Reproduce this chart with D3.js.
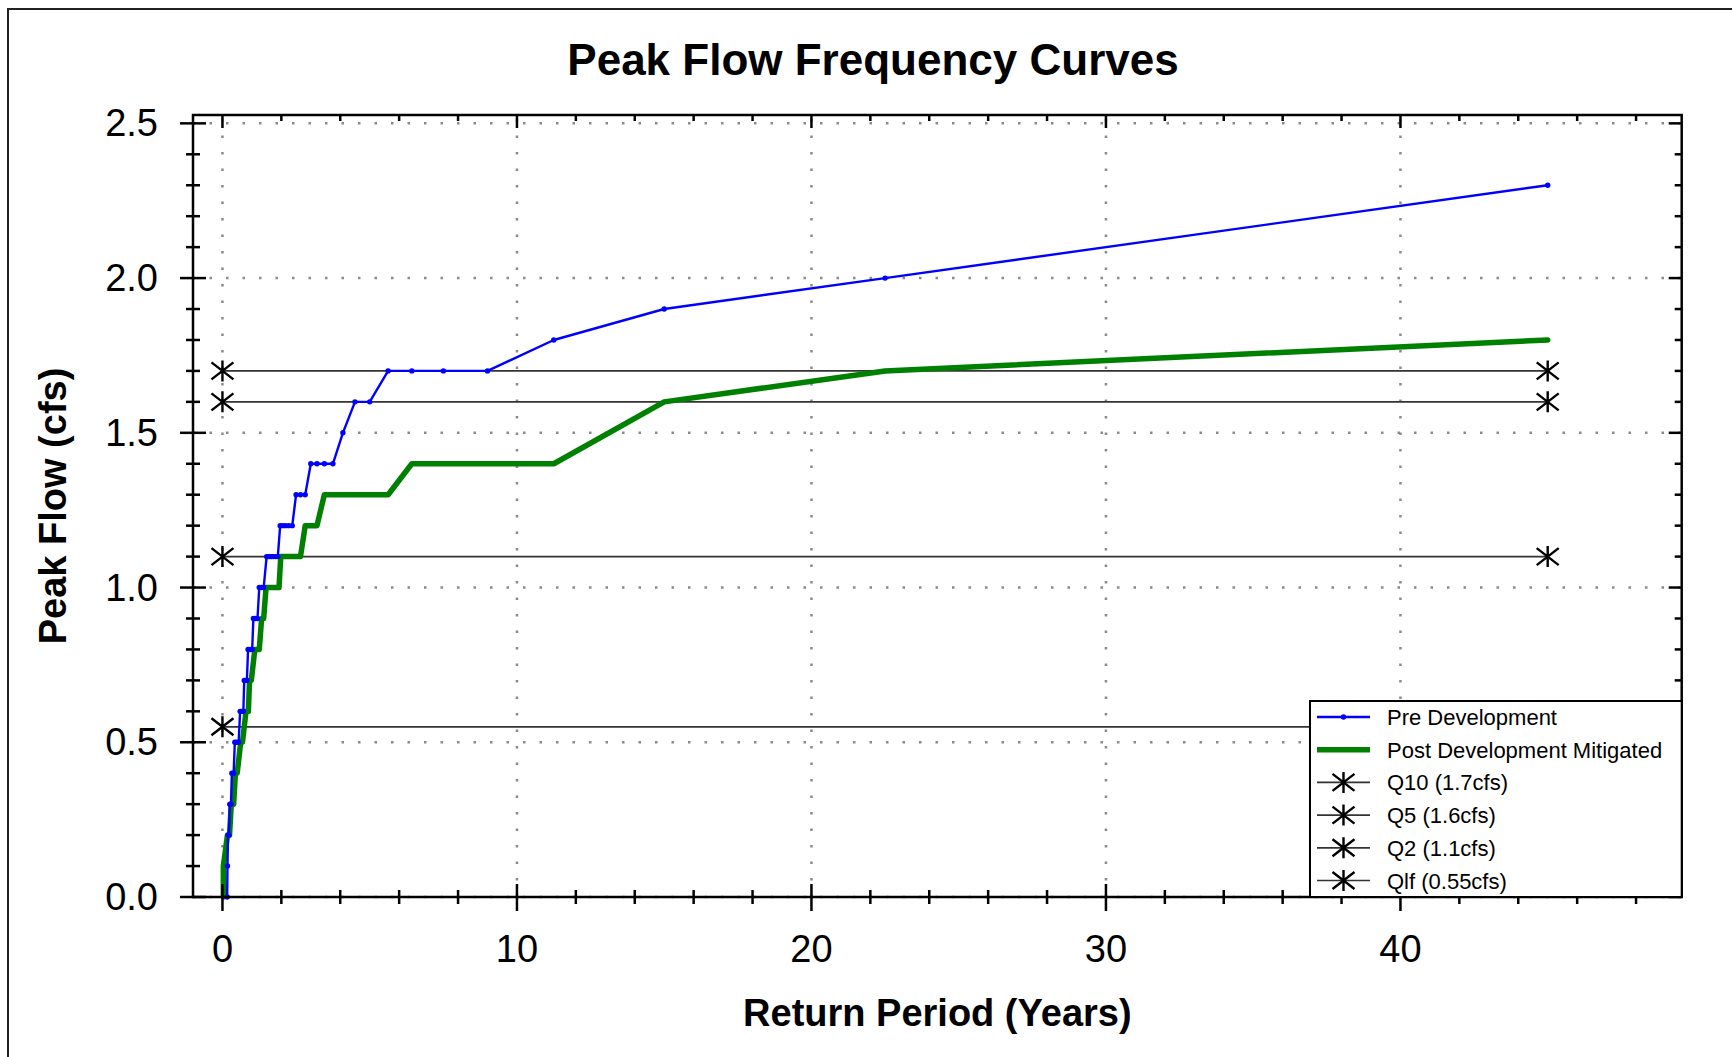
<!DOCTYPE html>
<html>
<head>
<meta charset="utf-8">
<script src="https://cdn.jsdelivr.net/npm/d3@7"></script>
<style>
  body { margin: 0; background: #fff; }
  svg { display: block; }
  text { font-family: "Liberation Sans", Arial, sans-serif; fill: #000; }
</style>
</head>
<body>
<svg id="chart" width="1732" height="1057"></svg>
<script>
// Pre-development peak flows (cfs) against return period (years)
const preReturn = [0.16, 0.17, 0.19, 0.22, 0.25, 0.29, 0.32, 0.38, 0.42, 0.48, 0.55,
  0.60, 0.66, 0.71, 0.74, 0.79, 0.83, 0.87, 0.94, 1.01, 1.05, 1.12, 1.19,
  1.25, 1.32, 1.40, 1.50, 1.55, 1.61, 1.67, 1.73, 1.80, 1.88, 1.96, 2.05, 2.14, 2.25, 2.37,
  2.50, 2.65, 2.81, 3.00, 3.21, 3.46, 3.75, 4.09, 4.50, 5.00, 5.625, 6.43,
  7.50, 9.00, 11.25, 15.0, 22.5, 45.0];
const preFlow = [0.0, 0.1, 0.2, 0.2, 0.3, 0.3, 0.4, 0.4, 0.5, 0.5, 0.5,
  0.6, 0.6, 0.6, 0.7, 0.7, 0.7, 0.8, 0.8, 0.8, 0.9, 0.9, 0.9,
  1.0, 1.0, 1.0, 1.1, 1.1, 1.1, 1.1, 1.1, 1.1, 1.1, 1.2, 1.2, 1.2, 1.2, 1.2,
  1.3, 1.3, 1.3, 1.4, 1.4, 1.4, 1.4, 1.5, 1.6, 1.6, 1.7, 1.7,
  1.7, 1.7, 1.8, 1.9, 2.0, 2.3];

// Post-development (mitigated) peak flows
const postReturn = [0.03, 0.03, 0.17, 0.24, 0.30, 0.38, 0.44, 0.50, 0.62, 0.68,
  0.80, 0.88, 0.92, 0.98, 1.10, 1.25, 1.33, 1.40, 1.48, 1.65, 1.92,
  1.98, 2.14, 2.37, 2.65, 2.81, 3.00, 3.21, 3.46, 3.75, 4.09, 4.50, 5.00, 5.625,
  6.43, 7.50, 9.00, 11.25, 15.0, 22.5, 45.0];
const postFlow = [0.0, 0.1, 0.2, 0.2, 0.3, 0.3, 0.4, 0.4, 0.5, 0.5,
  0.6, 0.6, 0.7, 0.7, 0.8, 0.8, 0.9, 0.9, 1.0, 1.0, 1.0,
  1.1, 1.1, 1.1, 1.1, 1.2, 1.2, 1.2, 1.3, 1.3, 1.3, 1.3, 1.3, 1.3,
  1.4, 1.4, 1.4, 1.4, 1.6, 1.7, 1.8];

// Design flow thresholds
const refLabels = ["Q10 (1.7cfs)", "Q5 (1.6cfs)", "Q2 (1.1cfs)", "Qlf (0.55cfs)"];
const refFlow = [1.7, 1.6, 1.1, 0.55];
const refReturnEnds = [0, 45];

const xTickValues = [0, 10, 20, 30, 40];
const yTickValues = [0.0, 0.5, 1.0, 1.5, 2.0, 2.5];

const svg = d3.select("#chart");
const plotLeft = 193, plotRight = 1681.7, plotTop = 115, plotBottom = 897;

const x = d3.scaleLinear().domain([-1.0, 49.55]).range([plotLeft, plotRight]);
const y = d3.scaleLinear().domain([0, 2.527]).range([plotBottom, plotTop]);

// outer page frame
svg.append("rect").attr("x", 8).attr("y", 9).attr("width", 1800).attr("height", 1100)
  .attr("fill", "none").attr("stroke", "#222").attr("stroke-width", 2);

// title
svg.append("text").attr("x", 873).attr("y", 75).attr("text-anchor", "middle")
  .attr("font-size", 44).attr("font-weight", "bold").text("Peak Flow Frequency Curves");

// dotted grid
const grid = svg.append("g").attr("stroke", "#8a8a8a").attr("stroke-width", 2.5)
  .attr("stroke-dasharray", "2.5 14");
grid.selectAll("line.gx").data(xTickValues).join("line").attr("class", "gx")
  .attr("x1", d => x(d)).attr("x2", d => x(d)).attr("y1", plotBottom).attr("y2", plotTop);
grid.selectAll("line.gy").data(yTickValues).join("line").attr("class", "gy")
  .attr("x1", plotLeft).attr("x2", plotRight).attr("y1", d => y(d)).attr("y2", d => y(d));

// threshold lines
const refs = refFlow.map((q, i) => ({ q, label: refLabels[i] }));
svg.append("g").selectAll("line").data(refs).join("line")
  .attr("x1", x(refReturnEnds[0])).attr("x2", x(refReturnEnds[1]))
  .attr("y1", d => y(d.q)).attr("y2", d => y(d.q))
  .attr("stroke", "#333").attr("stroke-width", 1.7);

const pre = preReturn.map((t, i) => ({ t, q: preFlow[i] }));
const post = postReturn.map((t, i) => ({ t, q: postFlow[i] }));
const line = d3.line().x(d => x(d.t)).y(d => y(d.q));

svg.append("path").datum(post).attr("d", line).attr("fill", "none")
  .attr("stroke", "#008000").attr("stroke-width", 5.5)
  .attr("stroke-linejoin", "round").attr("stroke-linecap", "round");

svg.append("path").datum(pre).attr("d", line).attr("fill", "none")
  .attr("stroke", "#0000ff").attr("stroke-width", 2.4).attr("stroke-linejoin", "round");
svg.append("g").selectAll("circle").data(pre).join("circle")
  .attr("cx", d => x(d.t)).attr("cy", d => y(d.q)).attr("r", 2.7).attr("fill", "#0000ff");

// asterisk markers at threshold line ends
const star = "M0,-10.5V10.5M-11,-8.5L11,8.5M-11,8.5L11,-8.5";
const starPts = [];
refs.forEach(r => refReturnEnds.forEach(t => starPts.push({ t, q: r.q })));
svg.append("g").selectAll("path").data(starPts).join("path")
  .attr("d", star).attr("transform", d => `translate(${x(d.t)},${y(d.q)})`)
  .attr("fill", "none").attr("stroke", "#000").attr("stroke-width", 2.4);

// frame
svg.append("rect").attr("x", plotLeft).attr("y", plotTop).attr("width", plotRight - plotLeft)
  .attr("height", plotBottom - plotTop).attr("fill", "none").attr("stroke", "#000").attr("stroke-width", 2.5);

const ticks = svg.append("g").attr("stroke", "#000").attr("stroke-width", 2.5);
const xMinor = d3.range(0, 49, 2);
const yMinor = d3.range(0, 26).map(i => i / 10);
const isMajorX = v => v % 10 === 0;
const isMajorY = v => Math.abs(v * 2 - Math.round(v * 2)) < 1e-6;

// bottom axis ticks (crossing)
ticks.selectAll("line.xb").data(xMinor).join("line").attr("class", "xb")
  .attr("x1", d => x(d)).attr("x2", d => x(d))
  .attr("y1", d => plotBottom - (isMajorX(d) ? 13 : 7)).attr("y2", d => plotBottom + (isMajorX(d) ? 14 : 7));
// top axis ticks (inward)
ticks.selectAll("line.xt").data(xMinor).join("line").attr("class", "xt")
  .attr("x1", d => x(d)).attr("x2", d => x(d))
  .attr("y1", plotTop).attr("y2", d => plotTop + (isMajorX(d) ? 13 : 6));
// left axis ticks (crossing)
ticks.selectAll("line.yl").data(yMinor).join("line").attr("class", "yl")
  .attr("y1", d => y(d)).attr("y2", d => y(d))
  .attr("x1", d => plotLeft - (isMajorY(d) ? 13 : 7)).attr("x2", d => plotLeft + (isMajorY(d) ? 13 : 7));
// right axis ticks (inward)
ticks.selectAll("line.yr").data(yMinor).join("line").attr("class", "yr")
  .attr("y1", d => y(d)).attr("y2", d => y(d))
  .attr("x1", d => plotRight - (isMajorY(d) ? 13 : 7)).attr("x2", plotRight);

// tick labels
svg.append("g").selectAll("text").data(xTickValues).join("text")
  .attr("x", d => x(d)).attr("y", 962).attr("text-anchor", "middle")
  .attr("font-size", 38).text(d => d3.format("d")(d));
svg.append("g").selectAll("text").data(yTickValues).join("text")
  .attr("x", 158).attr("y", d => y(d) + 13).attr("text-anchor", "end")
  .attr("font-size", 38).text(d => d3.format(".1f")(d));

// axis titles
svg.append("text").attr("x", (plotLeft + plotRight) / 2).attr("y", 1026).attr("text-anchor", "middle")
  .attr("font-size", 38).attr("font-weight", "bold").text("Return Period (Years)");
svg.append("text").attr("transform", `translate(66,${(plotTop + plotBottom) / 2}) rotate(-90)`)
  .attr("text-anchor", "middle").attr("font-size", 38).attr("font-weight", "bold")
  .text("Peak Flow (cfs)");

// legend
const lg = svg.append("g");
lg.append("rect").attr("x", 1310).attr("y", 701).attr("width", plotRight - 1310).attr("height", plotBottom - 701)
  .attr("fill", "#fff").attr("stroke", "#000").attr("stroke-width", 2);
const legendItems = [
  { label: "Pre Development", kind: "pre" },
  { label: "Post Development Mitigated", kind: "post" },
  ...refs.map(r => ({ label: r.label, kind: "ref" }))
];
const sx1 = 1317, sx2 = 1370, scx = (sx1 + sx2) / 2;
legendItems.forEach((it, i) => {
  const cy = 717 + i * 32.7;
  const g = lg.append("g");
  if (it.kind === "pre") {
    g.append("line").attr("x1", sx1).attr("x2", sx2).attr("y1", cy).attr("y2", cy)
      .attr("stroke", "#0000ff").attr("stroke-width", 2.4);
    g.append("circle").attr("cx", scx).attr("cy", cy).attr("r", 2.7).attr("fill", "#0000ff");
  } else if (it.kind === "post") {
    g.append("line").attr("x1", sx1).attr("x2", sx2).attr("y1", cy).attr("y2", cy)
      .attr("stroke", "#008000").attr("stroke-width", 5.5);
  } else {
    g.append("line").attr("x1", sx1).attr("x2", sx2).attr("y1", cy).attr("y2", cy)
      .attr("stroke", "#333").attr("stroke-width", 1.7);
    g.append("path").attr("d", star).attr("transform", `translate(${scx},${cy})`)
      .attr("fill", "none").attr("stroke", "#000").attr("stroke-width", 2.4);
  }
  g.append("text").attr("x", 1387).attr("y", cy + 8).attr("font-size", 22).text(it.label);
});
</script>
</body>
</html>
